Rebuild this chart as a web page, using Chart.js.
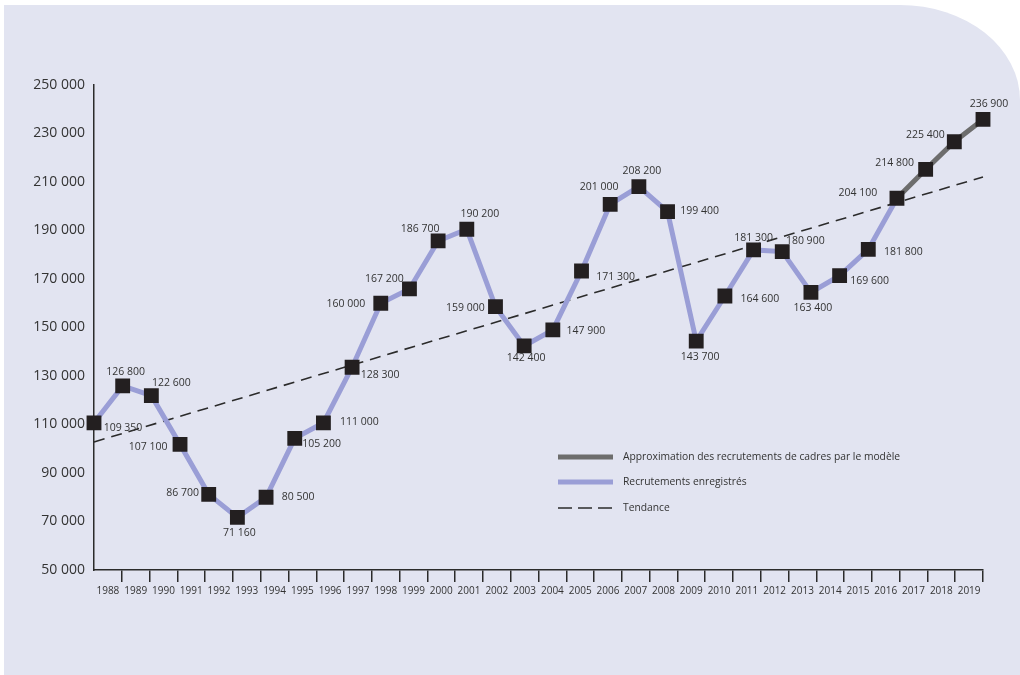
<!DOCTYPE html>
<html>
<head>
<meta charset="utf-8">
<script src="https://cdn.jsdelivr.net/npm/chart.js@4.4.1/dist/chart.umd.min.js"></script>
<style>
html, body { margin: 0; padding: 0; background: #fff; }
#bg { position: absolute; left: 4px; top: 5px; width: 1016px; height: 670px; background: #e2e4f1; border-top-right-radius: 120px 95px; }
#myChart { position: absolute; left: 0; top: 0; }
</style>
</head>
<body>
<div id="bg"></div>
<canvas id="myChart" width="1020" height="675"></canvas>
<script>
let years = ['1988', '1989', '1990', '1991', '1992', '1993', '1994', '1995', '1996', '1997', '1998', '1999', '2000', '2001', '2002', '2003',
    '2004', '2005', '2006', '2007', '2008', '2009', '2010', '2011', '2012', '2013', '2014', '2015', '2016', '2017', '2018', '2019'];

// recorded hires 1988-2016 (as plotted)
let recorded = [110700, 125900, 121900, 101800, 81200, 71700, 80000, 104300, 110700, 133600, 160000, 165900, 185700, 190500, 158600, 142400,
    149000, 173300, 200800, 208100, 197800, 144400, 163000, 182000, 181300, 164500, 171400, 182200, 203300];

// model approximation 2016-2019
let modelled = [203300, 215200, 226600, 235800];

// trend line ends, 1988 and 2019
let trend = [102800, 212100];

let valueLabels = ['109 350', '126 800', '122 600', '107 100', '86 700', '71 160', '80 500', '105 200', '111 000', '128 300', '160 000', '167 200',
    '186 700', '190 200', '159 000', '142 400', '147 900', '171 300', '201 000', '208 200', '199 400', '143 700', '164 600', '181 300', '180 900',
    '163 400', '169 600', '181 800', '204 100', '214 800', '225 400', '236 900'];

let yTickLabels = ['50 000', '70 000', '90 000', '110 000', '130 000', '150 000', '170 000', '190 000', '210 000', '230 000', '250 000'];

let legendNames = ['Approximation des recrutements de cadres par le modèle', 'Recrutements enregistrés', 'Tendance'];

// where each value label sits relative to its marker
let labelShift = [[29, 5], [3, -14], [20, -13], [-32, 3], [-26, -1], [2, 16], [32, 0], [27, 6], [36, -1], [28, 8], [-35, 1], [-25, -10],
    [-18, -12], [13, -15], [-30, 1], [2, 12], [33, 1], [34, 6], [-11, -17], [3, -16], [32, -1], [4, 16], [35, 3], [0, -12], [23, -11],
    [2, 16], [30, 5], [35, 3], [-39, -5], [-31, -6], [-29, -7], [6, -15]];

let blue = '#9a9ed6';
let grey = '#6d6d6d';
let ink = '#2b2b2b';

Chart.defaults.font.family = '"Open Sans", sans-serif';
Chart.defaults.color = '#333';

let first = years.length - modelled.length;
let allPoints = recorded.concat(modelled.slice(1));
let greyData = years.map((y, i) => i < first ? null : modelled[i - first]);

let valueLabelPlugin = {
    id: 'valueLabels',
    afterDatasetsDraw(chart) {
        let ctx = chart.ctx;
        let meta = chart.getDatasetMeta(0);
        ctx.save();
        ctx.font = '10.5px "Open Sans"';
        ctx.fillStyle = '#333';
        ctx.textAlign = 'center';
        ctx.textBaseline = 'middle';
        meta.data.forEach((pt, i) => {
            ctx.fillText(valueLabels[i], pt.x + labelShift[i][0], pt.y + labelShift[i][1]);
        });

        // legend
        let rows = [457, 482, 508];
        ctx.font = '10.3px "Open Sans"';
        ctx.textAlign = 'left';
        ctx.lineCap = 'butt';
        rows.forEach((y, i) => {
            ctx.beginPath();
            if (i == 0) { ctx.strokeStyle = grey; ctx.lineWidth = 5; ctx.setLineDash([]); }
            if (i == 1) { ctx.strokeStyle = blue; ctx.lineWidth = 5; ctx.setLineDash([]); }
            if (i == 2) { ctx.strokeStyle = ink; ctx.lineWidth = 1.5; ctx.setLineDash([14, 6]); }
            ctx.moveTo(558, y);
            ctx.lineTo(613, y);
            ctx.stroke();
            ctx.fillText(legendNames[i], 623, y);
        });
        ctx.restore();
    }
};

let chart = new Chart(document.getElementById('myChart').getContext('2d'), {
    type: 'line',
    data: {
        labels: years,
        datasets: [{
            // markers on top
            data: allPoints,
            xAxisID: 'xd',
            showLine: false,
            pointStyle: 'rect',
            pointRadius: 10.5,
            pointBackgroundColor: '#231f20',
            pointBorderWidth: 0,
            order: 0
        }, {
            data: recorded,
            xAxisID: 'xd',
            borderColor: blue,
            borderWidth: 5,
            pointRadius: 0,
            tension: 0,
            order: 1
        }, {
            data: greyData,
            xAxisID: 'xd',
            borderColor: grey,
            borderWidth: 5,
            pointRadius: 0,
            order: 1
        }, {
            data: [{ x: years[0], y: trend[0] }, { x: years[years.length - 1], y: trend[1] }],
            xAxisID: 'xd',
            borderColor: ink,
            borderWidth: 1.6,
            borderDash: [11, 7],
            pointRadius: 0,
            order: 2
        }]
    },
    options: {
        responsive: false,
        animation: false,
        layout: { padding: { top: 85, right: 37, bottom: 75, left: 0 } },
        plugins: {
            legend: { display: false },
            tooltip: { enabled: false }
        },
        scales: {
            // visible year axis: labels in the cells, ticks on the cell edges
            x: {
                type: 'category',
                offset: true,
                grid: {
                    display: true, offset: true, drawOnChartArea: false, drawTicks: true, tickLength: 12, lineWidth: 1.5,
                    color: (c) => c.index === 0 ? 'rgba(0,0,0,0)' : ink
                },
                border: { display: true, color: ink, width: 1.5 },
                ticks: { autoSkip: false, maxRotation: 0, padding: 3, font: { size: 10 }, color: '#333' },
                afterFit: (s) => { s.height = 30; }
            },
            // data axis, points run edge to edge
            xd: {
                type: 'category',
                display: false,
                offset: false
            },
            y: {
                min: 50000,
                max: 250000,
                grid: { display: false, drawTicks: false },
                border: { display: true, color: ink, width: 1.5 },
                ticks: {
                    stepSize: 20000,
                    padding: 9,
                    font: { size: 14 },
                    color: '#333',
                    callback: (v, i) => yTickLabels[i]
                },
                afterFit: (s) => { s.width = 94; }
            }
        }
    },
    plugins: [valueLabelPlugin]
});
</script>
</body>
</html>
